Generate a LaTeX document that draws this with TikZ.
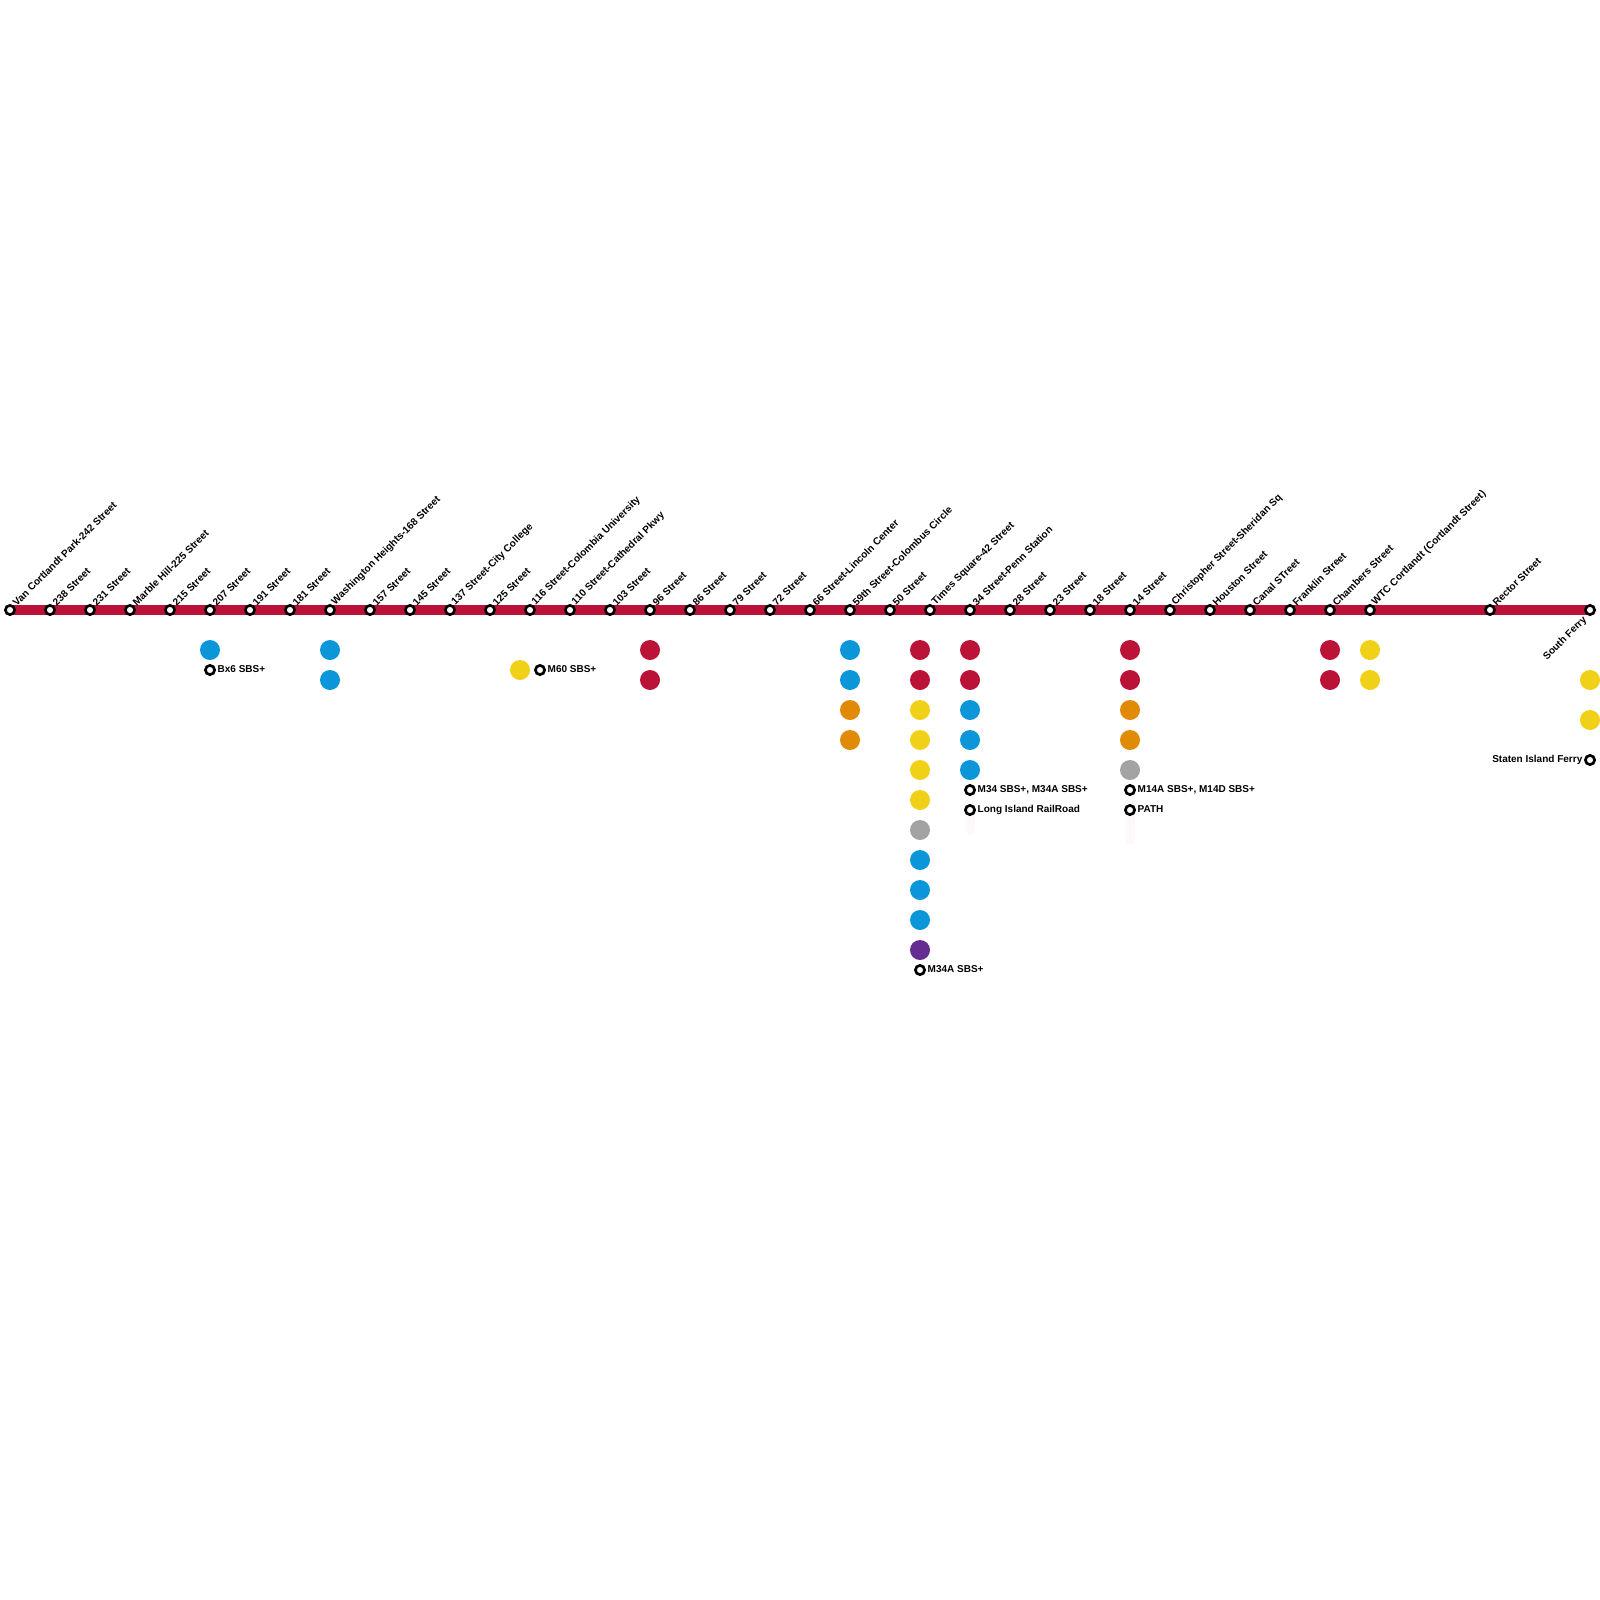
\documentclass[tikz,border=0pt]{standalone}
\usepackage{fontspec}
\setmainfont{Liberation Sans}
\usetikzlibrary{backgrounds}
\definecolor{linered}{HTML}{BB1238}
\definecolor{busblue}{HTML}{0A96D8}
\definecolor{busyellow}{HTML}{F1D018}
\definecolor{busorange}{HTML}{E08A06}
\definecolor{busgray}{HTML}{A3A3A3}
\definecolor{buspurple}{HTML}{662D91}
\definecolor{palepink}{HTML}{FEF9F9}
\tikzset{station/.style={circle, draw=black, fill=white, line width=2.7pt, minimum size=9.2pt, inner sep=0pt}}
\tikzset{stationname/.style={rotate=45, anchor=south west, inner sep=0pt, font=\fontsize{10.1}{10}\selectfont\bfseries}}
\tikzset{transfer/.style={anchor=west, inner sep=0pt, font=\fontsize{10}{10}\selectfont\bfseries}}
\tikzset{dot/.style={circle, minimum size=20pt, inner sep=0pt}}
\tikzset{connect/.style={draw=linered, line width=10pt}}
\tikzset{faint/.style={draw=palepink, line width=9pt, line cap=round}}

\begin{document}
\begin{tikzpicture}[x=1pt,y=-1pt]

\useasboundingbox (0,0) rectangle (1600,1600);

%stations
\node[station] (vancortlandt) at (10,610) {};
\node[station] (s238) at ([xshift=40pt]vancortlandt) {};
\node[station] (s231) at ([xshift=40pt]s238) {};
\node[station] (marblehill) at ([xshift=40pt]s231) {};
\node[station] (s215) at ([xshift=40pt]marblehill) {};
\node[station] (s207) at ([xshift=40pt]s215) {};
\node[station] (s191) at ([xshift=40pt]s207) {};
\node[station] (s181) at ([xshift=40pt]s191) {};
\node[station] (washington) at ([xshift=40pt]s181) {};
\node[station] (s157) at ([xshift=40pt]washington) {};
\node[station] (s145) at ([xshift=40pt]s157) {};
\node[station] (s137) at ([xshift=40pt]s145) {};
\node[station] (s125) at ([xshift=40pt]s137) {};
\node[station] (s116) at ([xshift=40pt]s125) {};
\node[station] (s110) at ([xshift=40pt]s116) {};
\node[station] (s103) at ([xshift=40pt]s110) {};
\node[station] (s96) at ([xshift=40pt]s103) {};
\node[station] (s86) at ([xshift=40pt]s96) {};
\node[station] (s79) at ([xshift=40pt]s86) {};
\node[station] (s72) at ([xshift=40pt]s79) {};
\node[station] (s66) at ([xshift=40pt]s72) {};
\node[station] (s59) at ([xshift=40pt]s66) {};
\node[station] (s50) at ([xshift=40pt]s59) {};
\node[station] (times) at ([xshift=40pt]s50) {};
\node[station] (s34) at ([xshift=40pt]times) {};
\node[station] (s28) at ([xshift=40pt]s34) {};
\node[station] (s23) at ([xshift=40pt]s28) {};
\node[station] (s18) at ([xshift=40pt]s23) {};
\node[station] (s14) at ([xshift=40pt]s18) {};
\node[station] (christopher) at ([xshift=40pt]s14) {};
\node[station] (houston) at ([xshift=40pt]christopher) {};
\node[station] (canal) at ([xshift=40pt]houston) {};
\node[station] (franklin) at ([xshift=40pt]canal) {};
\node[station] (chambers) at ([xshift=40pt]franklin) {};
\node[station] (wtc) at ([xshift=40pt]chambers) {};
\node[station] (rector) at ([xshift=120pt]wtc) {};
\node[station] (southferry) at ([xshift=100pt]rector) {};

%line
\begin{pgfonlayer}{background}
\path[connect] (vancortlandt.center) -- (southferry.center);
\end{pgfonlayer}

%station names
\node[stationname] (nvancortlandt) at ([xshift=7pt,yshift=3pt]vancortlandt) {Van Cortlandt Park-242 Street};
\node[stationname] (n238) at ([xshift=7pt,yshift=3pt]s238) {238 Street};
\node[stationname] (n231) at ([xshift=7pt,yshift=3pt]s231) {231 Street};
\node[stationname] (nmarblehill) at ([xshift=7pt,yshift=3pt]marblehill) {Marble Hill-225 Street};
\node[stationname] (n215) at ([xshift=7pt,yshift=3pt]s215) {215 Street};
\node[stationname] (n207) at ([xshift=7pt,yshift=3pt]s207) {207 Street};
\node[stationname] (n191) at ([xshift=7pt,yshift=3pt]s191) {191 Street};
\node[stationname] (n181) at ([xshift=7pt,yshift=3pt]s181) {181 Street};
\node[stationname] (nwashington) at ([xshift=7pt,yshift=3pt]washington) {Washington Heights-168 Street};
\node[stationname] (n157) at ([xshift=7pt,yshift=3pt]s157) {157 Street};
\node[stationname] (n145) at ([xshift=7pt,yshift=3pt]s145) {145 Street};
\node[stationname] (n137) at ([xshift=7pt,yshift=3pt]s137) {137 Street-City College};
\node[stationname] (n125) at ([xshift=7pt,yshift=3pt]s125) {125 Street};
\node[stationname] (n116) at ([xshift=7pt,yshift=3pt]s116) {116 Street-Colombia University};
\node[stationname] (n110) at ([xshift=7pt,yshift=3pt]s110) {110 Street-Cathedral Pkwy};
\node[stationname] (n103) at ([xshift=7pt,yshift=3pt]s103) {103 Street};
\node[stationname] (n96) at ([xshift=7pt,yshift=3pt]s96) {96 Street};
\node[stationname] (n86) at ([xshift=7pt,yshift=3pt]s86) {86 Street};
\node[stationname] (n79) at ([xshift=7pt,yshift=3pt]s79) {79 Street};
\node[stationname] (n72) at ([xshift=7pt,yshift=3pt]s72) {72 Street};
\node[stationname] (n66) at ([xshift=7pt,yshift=3pt]s66) {66 Street-Lincoln Center};
\node[stationname] (n59) at ([xshift=7pt,yshift=3pt]s59) {59th Street-Colombus Circle};
\node[stationname] (n50) at ([xshift=7pt,yshift=3pt]s50) {50 Street};
\node[stationname] (ntimes) at ([xshift=7pt,yshift=3pt]times) {Times Square-42 Street};
\node[stationname] (n34) at ([xshift=7pt,yshift=3pt]s34) {34 Street-Penn Station};
\node[stationname] (n28) at ([xshift=7pt,yshift=3pt]s28) {28 Street};
\node[stationname] (n23) at ([xshift=7pt,yshift=3pt]s23) {23 Street};
\node[stationname] (n18) at ([xshift=7pt,yshift=3pt]s18) {18 Street};
\node[stationname] (n14) at ([xshift=7pt,yshift=3pt]s14) {14 Street};
\node[stationname] (nchristopher) at ([xshift=7pt,yshift=3pt]christopher) {Christopher Street-Sheridan Sq};
\node[stationname] (nhouston) at ([xshift=7pt,yshift=3pt]houston) {Houston Street};
\node[stationname] (ncanal) at ([xshift=7pt,yshift=3pt]canal) {Canal STreet};
\node[stationname] (nfranklin) at ([xshift=7pt,yshift=3pt]franklin) {Franklin Street};
\node[stationname] (nchambers) at ([xshift=7pt,yshift=3pt]chambers) {Chambers Street};
\node[stationname] (nwtc) at ([xshift=7pt,yshift=3pt]wtc) {WTC Cortlandt (Cortlandt Street)};
\node[stationname] (nrector) at ([xshift=7pt,yshift=3pt]rector) {Rector Street};
\node[stationname, anchor=north east] (nsouthferry) at ([xshift=-8pt,yshift=-5pt]southferry) {South Ferry};

%207
\node[dot, fill=busblue] (a207) at ([yshift=-40pt]s207) {};
\node[station] (b207) at ([yshift=-60pt]s207) {};
\node[transfer] (t207) at ([xshift=7.5pt,yshift=0.5pt]b207) {Bx6 SBS+};

%washington
\node[dot, fill=busblue] (awashington) at ([yshift=-40pt]washington) {};
\node[dot, fill=busblue] (bwashington) at ([yshift=-70pt]washington) {};

%125
\node[dot, fill=busyellow] (a125) at ([xshift=30pt,yshift=-60pt]s125) {};
\node[station] (b125) at ([xshift=50pt,yshift=-60pt]s125) {};
\node[transfer] (t125) at ([xshift=7.5pt,yshift=0.5pt]b125) {M60 SBS+};

%96
\node[dot, fill=linered] (a96) at ([yshift=-40pt]s96) {};
\node[dot, fill=linered] (b96) at ([yshift=-70pt]s96) {};

%59
\node[dot, fill=busblue] (a59) at ([yshift=-40pt]s59) {};
\node[dot, fill=busblue] (b59) at ([yshift=-70pt]s59) {};
\node[dot, fill=busorange] (c59) at ([yshift=-100pt]s59) {};
\node[dot, fill=busorange] (d59) at ([yshift=-130pt]s59) {};

%times square
\node[dot, fill=linered] (atimes) at ([xshift=-10pt,yshift=-40pt]times) {};
\node[dot, fill=linered] (btimes) at ([xshift=-10pt,yshift=-70pt]times) {};
\node[dot, fill=busyellow] (ctimes) at ([xshift=-10pt,yshift=-100pt]times) {};
\node[dot, fill=busyellow] (dtimes) at ([xshift=-10pt,yshift=-130pt]times) {};
\node[dot, fill=busyellow] (etimes) at ([xshift=-10pt,yshift=-160pt]times) {};
\node[dot, fill=busyellow] (ftimes) at ([xshift=-10pt,yshift=-190pt]times) {};
\node[dot, fill=busgray] (gtimes) at ([xshift=-10pt,yshift=-220pt]times) {};
\node[dot, fill=busblue] (htimes) at ([xshift=-10pt,yshift=-250pt]times) {};
\node[dot, fill=busblue] (itimes) at ([xshift=-10pt,yshift=-280pt]times) {};
\node[dot, fill=busblue] (jtimes) at ([xshift=-10pt,yshift=-310pt]times) {};
\node[dot, fill=buspurple] (ktimes) at ([xshift=-10pt,yshift=-340pt]times) {};
\node[station] (ltimes) at ([xshift=-10pt,yshift=-360pt]times) {};
\node[transfer] (ttimes) at ([xshift=7.5pt,yshift=0.5pt]ltimes) {M34A SBS+};

%34
\begin{pgfonlayer}{background}
\path[faint] ([yshift=-190pt]s34.center) -- ([yshift=-220pt]s34.center);
\path[faint] ([yshift=-190pt]s14.center) -- ([yshift=-230pt]s14.center);
\end{pgfonlayer}
\node[dot, fill=linered] (a34) at ([yshift=-40pt]s34) {};
\node[dot, fill=linered] (b34) at ([yshift=-70pt]s34) {};
\node[dot, fill=busblue] (c34) at ([yshift=-100pt]s34) {};
\node[dot, fill=busblue] (d34) at ([yshift=-130pt]s34) {};
\node[dot, fill=busblue] (f34) at ([yshift=-160pt]s34) {};
\node[station] (g34) at ([yshift=-180pt]s34) {};
\node[transfer] (t34) at ([xshift=7.5pt]g34) {M34 SBS+, M34A SBS+};
\node[station] (h34) at ([yshift=-200pt]s34) {};
\node[transfer] (u34) at ([xshift=7.5pt,yshift=0.5pt]h34) {Long Island RailRoad};

%14
\node[dot, fill=linered] (a14) at ([yshift=-40pt]s14) {};
\node[dot, fill=linered] (b14) at ([yshift=-70pt]s14) {};
\node[dot, fill=busorange] (c14) at ([yshift=-100pt]s14) {};
\node[dot, fill=busorange] (d14) at ([yshift=-130pt]s14) {};
\node[dot, fill=busgray] (f14) at ([yshift=-160pt]s14) {};
\node[station] (g14) at ([yshift=-180pt]s14) {};
\node[transfer] (t14) at ([xshift=7.5pt]g14) {M14A SBS+, M14D SBS+};
\node[station] (h14) at ([yshift=-200pt]s14) {};
\node[transfer] (u14) at ([xshift=7.5pt,yshift=0.5pt]h14) {PATH};

%chambers / wtc
\node[dot, fill=linered] (achambers) at ([yshift=-40pt]chambers) {};
\node[dot, fill=linered] (bchambers) at ([yshift=-70pt]chambers) {};
\node[dot, fill=busyellow] (awtc) at ([yshift=-40pt]wtc) {};
\node[dot, fill=busyellow] (bwtc) at ([yshift=-70pt]wtc) {};

%south ferry
\node[dot, fill=busyellow] (asouthferry) at ([yshift=-70pt]southferry) {};
\node[dot, fill=busyellow] (bsouthferry) at ([yshift=-110pt]southferry) {};
\node[station] (csouthferry) at ([yshift=-150pt]southferry) {};
\node[transfer, anchor=east] (tsouthferry) at ([xshift=-7.5pt]csouthferry) {Staten Island Ferry};

\end{tikzpicture}
\end{document}
